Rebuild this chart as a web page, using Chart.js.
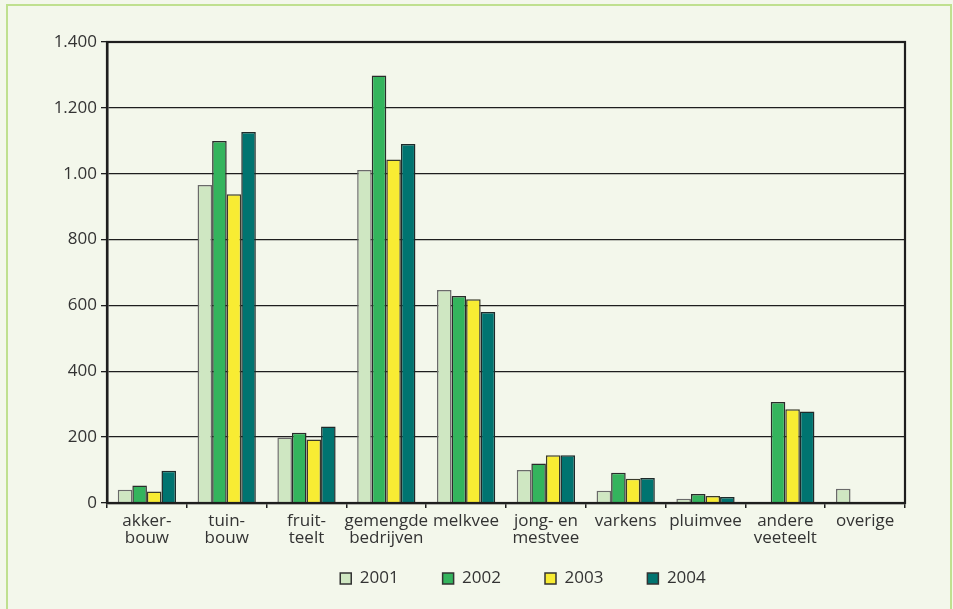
<!DOCTYPE html>
<html>
<head>
<meta charset="utf-8">
<script src="https://cdn.jsdelivr.net/npm/chart.js@4"></script>
<style>
  html, body { margin: 0; padding: 0; background: #f3f7eb; overflow: hidden; }
  #frame {
    position: absolute; left: 6px; top: 4px; width: 946px; height: 620px;
    border: 2px solid #bfe08f; box-sizing: border-box;
  }
  #wrap { position: absolute; left: 0; top: 0; width: 953px; height: 609px; }
</style>
</head>
<body>
<div id="frame"></div>
<div id="wrap"><canvas id="c" width="953" height="609"></canvas></div>
<script>
// Sectors (categories on the x axis)
const categories = [
  ["akker-", "bouw"], ["tuin-", "bouw"], ["fruit-", "teelt"], ["gemengde", "bedrijven"],
  "melkvee", ["jong- en", "mestvee"], "varkens", "pluimvee", ["andere", "veeteelt"], "overige"
];
const years = ["2001", "2002", "2003", "2004"];

// Values per year
const values2001 = [40, 966, 199, 1011, 647, 100, 37, 13, 0, 43];
const values2002 = [53, 1099, 213, 1298, 629, 120, 92, 27, 307, 0];
const values2003 = [35, 938, 193, 1043, 619, 145, 74, 21, 285, 0];
const values2004 = [98, 1127, 232, 1090, 580, 145, 76, 18, 278, 0];

// Y axis tick labels as printed
const yTickLabels = { 0: "0", 200: "200", 400: "400", 600: "600", 800: "800", 1000: "1.00", 1200: "1.200", 1400: "1.400" };

const colors = ["#cfe7c2", "#34b45d", "#f8ec33", "#007470"];
const borders = ["#6a6a6a", "#2b2b2b", "#3a3a2a", "#1e2a2a"];
const series = [values2001, values2002, values2003, values2004];

const FONT = "'Open Sans', 'DejaVu Sans', sans-serif";
const LEGEND_GAP = 44;

// Box around the plotting area
const plotFrame = {
  id: "plotFrame",
  afterDatasetsDraw(chart) {
    const a = chart.chartArea, ctx = chart.ctx;
    ctx.save();
    ctx.strokeStyle = "#1e1e1e";
    ctx.lineWidth = 2.2;
    ctx.strokeRect(a.left, a.top, a.right - a.left, a.bottom - a.top);
    ctx.restore();
  }
};

// Centre the legend under the plotting area and place its row
const legendUnderPlot = {
  id: "legendUnderPlot",
  afterLayout(chart) {
    const lg = chart.legend, a = chart.chartArea;
    if (!lg) return;
    const shift = (a.left + a.right) / 2 - (lg.left + lg.right) / 2 + 17;
    lg.left += shift;
    lg.right += shift;
    lg.top = a.bottom + 67 - LEGEND_GAP;
    lg.bottom = chart.height;
    lg.height = lg.bottom - lg.top;
  }
};

new Chart(document.getElementById("c"), {
  type: "bar",
  data: {
    labels: categories,
    datasets: years.map((y, i) => ({
      label: y,
      data: series[i],
      backgroundColor: colors[i],
      borderColor: borders[i],
      borderWidth: 1.5,
      borderSkipped: "bottom",
      barPercentage: 1.0,
      categoryPercentage: 0.73
    }))
  },
  options: {
    responsive: false,
    animation: false,
    layout: { padding: { left: 0, top: 42, right: 48, bottom: 0 } },
    plugins: {
      tooltip: { enabled: false },
      legend: {
        position: "bottom",
        maxHeight: 48,
        labels: {
          color: "#333",
          font: { family: FONT, size: 17 },
          boxWidth: 11, boxHeight: 11,
          padding: LEGEND_GAP,
          generateLabels(chart) {
            return chart.data.datasets.map((d, i) => ({
              text: d.label, fillStyle: d.backgroundColor, strokeStyle: "#333",
              lineWidth: 1.5, datasetIndex: i, fontColor: "#333"
            }));
          }
        }
      }
    },
    scales: {
      x: {
        offset: true,
        grid: { drawOnChartArea: false, offset: true, color: "#1e1e1e", lineWidth: 1.5, tickLength: 5 },
        border: { color: "#1e1e1e", width: 2.2 },
        ticks: { color: "#333", font: { family: FONT, size: 17, lineHeight: 1.0 }, maxRotation: 0, autoSkip: false, padding: 5 },
        afterFit(s) { s.height = 58; }
      },
      y: {
        min: 0, max: 1400,
        grid: { color: "#1e1e1e", lineWidth: 1.3, tickLength: 6 },
        border: { color: "#1e1e1e", width: 2.5 },
        ticks: {
          stepSize: 200, color: "#333", padding: 4,
          font: { family: FONT, size: 17 },
          callback: v => yTickLabels[v]
        },
        afterFit(s) { s.width = 107; }
      }
    }
  },
  plugins: [plotFrame, legendUnderPlot]
});
</script>
</body>
</html>
